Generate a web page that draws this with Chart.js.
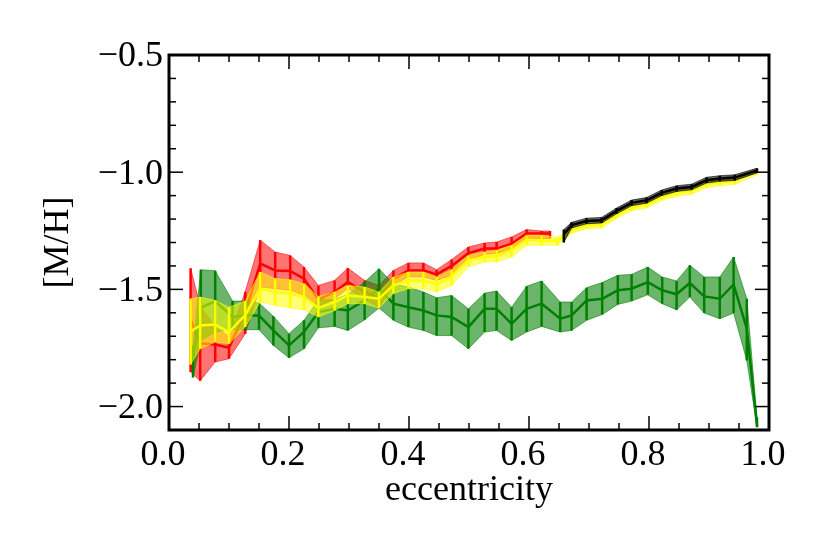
<!DOCTYPE html>
<html>
<head>
<meta charset="utf-8">
<script src="https://cdn.jsdelivr.net/npm/chart.js@4"></script>
<style>
  html,body{margin:0;padding:0;background:#fff;}
  #wrap{width:830px;height:554px;}
</style>
</head>
<body>
<div id="wrap"><canvas id="c" width="830" height="554"></canvas></div>
<script>
// ---------------- DATA ----------------
const xTicks = [0.0, 0.2, 0.4, 0.6, 0.8, 1.0];
const xTickLabels = ['0.0', '0.2', '0.4', '0.6', '0.8', '1.0'];
const xMinorTicks = [0.05, 0.1, 0.15, 0.25, 0.3, 0.35, 0.45, 0.5, 0.55, 0.65, 0.7, 0.75, 0.85, 0.9, 0.95];
const yTicks = [-2.0, -1.5, -1.0, -0.5];
const yTickLabels = ['\u22122.0', '\u22121.5', '\u22121.0', '\u22120.5'];
const yMinorTicks = [-2.1, -1.9, -1.8, -1.7, -1.6, -1.4, -1.3, -1.2, -1.1, -0.9, -0.8, -0.7, -0.6];

const redX    = [0.036, 0.052, 0.077, 0.100, 0.127, 0.152, 0.177, 0.202, 0.225, 0.249, 0.276, 0.298, 0.326, 0.350, 0.374, 0.399, 0.424, 0.446, 0.471, 0.499, 0.526, 0.546, 0.571, 0.596, 0.621, 0.635];
const redMean = [-1.63, -1.73, -1.735, -1.749, -1.60, -1.39, -1.419, -1.422, -1.454, -1.544, -1.511, -1.469, -1.511, -1.536, -1.454, -1.419, -1.419, -1.436, -1.40, -1.345, -1.326, -1.326, -1.305, -1.262, -1.262, -1.262];
const redHi   = [-1.41, -1.57, -1.66, -1.70, -1.51, -1.29, -1.341, -1.355, -1.405, -1.483, -1.462, -1.409, -1.462, -1.483, -1.419, -1.387, -1.387, -1.416, -1.373, -1.319, -1.302, -1.298, -1.276, -1.245, -1.251, -1.251];
const redLo   = [-1.853, -1.89, -1.81, -1.796, -1.69, -1.49, -1.497, -1.504, -1.525, -1.576, -1.54, -1.497, -1.54, -1.579, -1.483, -1.447, -1.447, -1.462, -1.44, -1.376, -1.35, -1.348, -1.326, -1.283, -1.283, -1.283];

const yelX    = [0.036, 0.052, 0.077, 0.100, 0.127, 0.152, 0.177, 0.202, 0.225, 0.249, 0.276, 0.298, 0.326, 0.350, 0.374, 0.399, 0.424, 0.446, 0.471, 0.499, 0.526, 0.546, 0.571, 0.596, 0.621, 0.648, 0.671, 0.696, 0.721, 0.746, 0.771, 0.796, 0.821, 0.846, 0.871, 0.896, 0.918, 0.943, 0.980];
const yelMean = [-1.68, -1.654, -1.65, -1.682, -1.61, -1.497, -1.511, -1.518, -1.533, -1.579, -1.554, -1.526, -1.533, -1.54, -1.483, -1.462, -1.462, -1.479, -1.444, -1.376, -1.362, -1.359, -1.333, -1.288, -1.291, -1.295, -1.245, -1.226, -1.223, -1.183, -1.149, -1.138, -1.106, -1.088, -1.079, -1.050, -1.043, -1.037, -0.998];
const yelHi   = [-1.54, -1.533, -1.547, -1.576, -1.55, -1.426, -1.454, -1.459, -1.476, -1.53, -1.511, -1.483, -1.49, -1.511, -1.447, -1.426, -1.426, -1.447, -1.416, -1.355, -1.341, -1.333, -1.312, -1.269, -1.269, -1.278, -1.230, -1.211, -1.208, -1.168, -1.134, -1.123, -1.091, -1.073, -1.064, -1.035, -1.028, -1.022, -0.985];
const yelLo   = [-1.82, -1.753, -1.725, -1.732, -1.66, -1.554, -1.568, -1.579, -1.587, -1.618, -1.59, -1.561, -1.561, -1.579, -1.518, -1.497, -1.497, -1.511, -1.483, -1.405, -1.383, -1.383, -1.362, -1.312, -1.312, -1.312, -1.260, -1.241, -1.238, -1.198, -1.164, -1.153, -1.121, -1.103, -1.094, -1.065, -1.058, -1.052, -1.011];

const grnX    = [0.040, 0.053, 0.077, 0.106, 0.127, 0.150, 0.174, 0.200, 0.225, 0.249, 0.276, 0.298, 0.326, 0.350, 0.374, 0.399, 0.424, 0.446, 0.471, 0.499, 0.526, 0.546, 0.571, 0.596, 0.621, 0.652, 0.671, 0.696, 0.722, 0.748, 0.771, 0.798, 0.822, 0.846, 0.868, 0.892, 0.918, 0.941, 0.963, 0.980];
const grnMean = [-1.80, -1.578, -1.551, -1.618, -1.61, -1.611, -1.675, -1.739, -1.682, -1.597, -1.583, -1.59, -1.547, -1.497, -1.561, -1.576, -1.59, -1.611, -1.618, -1.661, -1.583, -1.583, -1.647, -1.583, -1.561, -1.625, -1.611, -1.547, -1.540, -1.504, -1.497, -1.469, -1.504, -1.521, -1.473, -1.530, -1.540, -1.479, -1.668, -2.081];
const grnHi   = [-1.74, -1.416, -1.42, -1.55, -1.55, -1.558, -1.615, -1.689, -1.632, -1.544, -1.544, -1.521, -1.469, -1.412, -1.476, -1.49, -1.511, -1.536, -1.526, -1.583, -1.516, -1.507, -1.576, -1.487, -1.464, -1.554, -1.554, -1.493, -1.471, -1.440, -1.436, -1.405, -1.447, -1.464, -1.397, -1.447, -1.447, -1.362, -1.540, -2.046];
const grnLo   = [-1.876, -1.718, -1.682, -1.672, -1.672, -1.672, -1.739, -1.792, -1.753, -1.664, -1.658, -1.675, -1.63, -1.579, -1.632, -1.661, -1.675, -1.697, -1.697, -1.753, -1.682, -1.675, -1.718, -1.682, -1.658, -1.682, -1.675, -1.632, -1.607, -1.564, -1.550, -1.523, -1.561, -1.587, -1.533, -1.601, -1.625, -1.601, -1.803, -2.088];

const blkX    = [0.658, 0.671, 0.696, 0.721, 0.746, 0.771, 0.796, 0.821, 0.846, 0.871, 0.896, 0.918, 0.943, 0.980];
const blkMean = [-1.265, -1.226, -1.208, -1.205, -1.165, -1.131, -1.120, -1.088, -1.070, -1.063, -1.034, -1.027, -1.023, -0.993];
const blkHi   = [-1.245, -1.214, -1.196, -1.193, -1.153, -1.119, -1.108, -1.076, -1.058, -1.051, -1.022, -1.015, -1.011, -0.983];
const blkLo   = [-1.300, -1.238, -1.220, -1.217, -1.177, -1.143, -1.132, -1.100, -1.082, -1.075, -1.046, -1.039, -1.035, -1.003];

// ---------------- BUILD ----------------
const FONT = "'Liberation Serif', 'Times New Roman', serif";
const datasets = [];
function addSeries(xs, mean, lo, hi, lineColor, fillColor) {
  const pts = arr => xs.map((v, i) => ({x: v, y: arr[i]}));
  datasets.push({type: 'line', data: pts(hi), borderColor: fillColor, borderWidth: 1, pointRadius: 0, fill: false});
  datasets.push({type: 'line', data: pts(lo), borderColor: fillColor, borderWidth: 1, pointRadius: 0, fill: '-1', backgroundColor: fillColor});
  const err = [];
  xs.forEach((v, i) => { err.push({x: v, y: lo[i]}, {x: v, y: hi[i]}, {x: v, y: null}); });
  datasets.push({type: 'line', data: err, borderColor: lineColor, borderWidth: 2.5, pointRadius: 0, fill: false, spanGaps: false});
  datasets.push({type: 'line', data: pts(mean), borderColor: lineColor, borderWidth: 2.5, pointRadius: 0, fill: false});
}
addSeries(redX, redMean, redLo, redHi, 'rgb(255,0,0)', 'rgba(255,0,0,0.55)');
addSeries(grnX, grnMean, grnLo, grnHi, 'rgb(0,128,0)', 'rgba(0,128,0,0.58)');
addSeries(yelX, yelMean, yelLo, yelHi, 'rgb(255,255,0)', 'rgba(255,255,0,0.55)');
addSeries(blkX, blkMean, blkLo, blkHi, 'rgb(0,0,0)', 'rgba(0,0,0,0.6)');
// first pushed is drawn first (bottom)
datasets.forEach((d, i) => { d.order = datasets.length - i; });

const frameTicks = {
  id: 'frameTicks',
  afterDatasetsDraw(chart) {
    const {ctx, chartArea: a, scales: {x, y}} = chart;
    ctx.save();
    ctx.strokeStyle = '#000';
    ctx.lineCap = 'butt';
    const seg = (x1, y1, x2, y2) => { ctx.beginPath(); ctx.moveTo(x1, y1); ctx.lineTo(x2, y2); ctx.stroke(); };
    ctx.lineWidth = 1.5;
    const xt = (v, len) => { const p = x.getPixelForValue(v); seg(p, a.bottom, p, a.bottom - len); seg(p, a.top, p, a.top + len); };
    const yt = (v, len) => { const p = y.getPixelForValue(v); seg(a.left, p, a.left + len, p); seg(a.right, p, a.right - len, p); };
    xTicks.forEach(v => xt(v, 14));
    xMinorTicks.forEach(v => xt(v, 7));
    yTicks.forEach(v => yt(v, 14));
    yMinorTicks.forEach(v => yt(v, 7));
    ctx.lineWidth = 3;
    ctx.strokeRect(a.left, a.top, a.right - a.left, a.bottom - a.top);
    ctx.restore();
  }
};

new Chart(document.getElementById('c'), {
  type: 'line',
  data: {datasets},
  options: {
    responsive: false,
    animation: false,
    events: [],
    layout: {padding: {top: 55, right: 61, bottom: 0, left: 0}},
    plugins: {legend: {display: false}, tooltip: {enabled: false}},
    scales: {
      x: {
        type: 'linear', min: 0, max: 1,
        afterFit: s => { s.height = 124; },
        afterBuildTicks: s => { s.ticks = xTicks.map(v => ({value: v})); },
        grid: {display: false, drawTicks: false},
        border: {display: false},
        ticks: {
          callback: (v) => xTickLabels[xTicks.findIndex(t => Math.abs(t - v) < 1e-9)],
          font: {family: FONT, size: 36}, color: '#000', padding: 4, labelOffset: -6, maxRotation: 0, autoSkip: false
        },
        title: {display: true, text: 'eccentricity', font: {family: FONT, size: 36}, color: '#000', padding: {top: 0, bottom: 42}}
      },
      y: {
        type: 'linear', min: -2.1, max: -0.5,
        afterFit: s => { s.width = 169; },
        afterBuildTicks: s => { s.ticks = yTicks.map(v => ({value: v})); },
        grid: {display: false, drawTicks: false},
        border: {display: false},
        ticks: {
          callback: (v) => yTickLabels[yTicks.findIndex(t => Math.abs(t - v) < 1e-9)],
          font: {family: FONT, size: 36}, color: '#000', padding: 6, labelOffset: 2, autoSkip: false
        },
        title: {display: true, text: '[M/H]', font: {family: FONT, size: 36}, color: '#000', padding: {top: 37, bottom: 0}}
      }
    }
  },
  plugins: [frameTicks]
});
</script>
</body>
</html>
